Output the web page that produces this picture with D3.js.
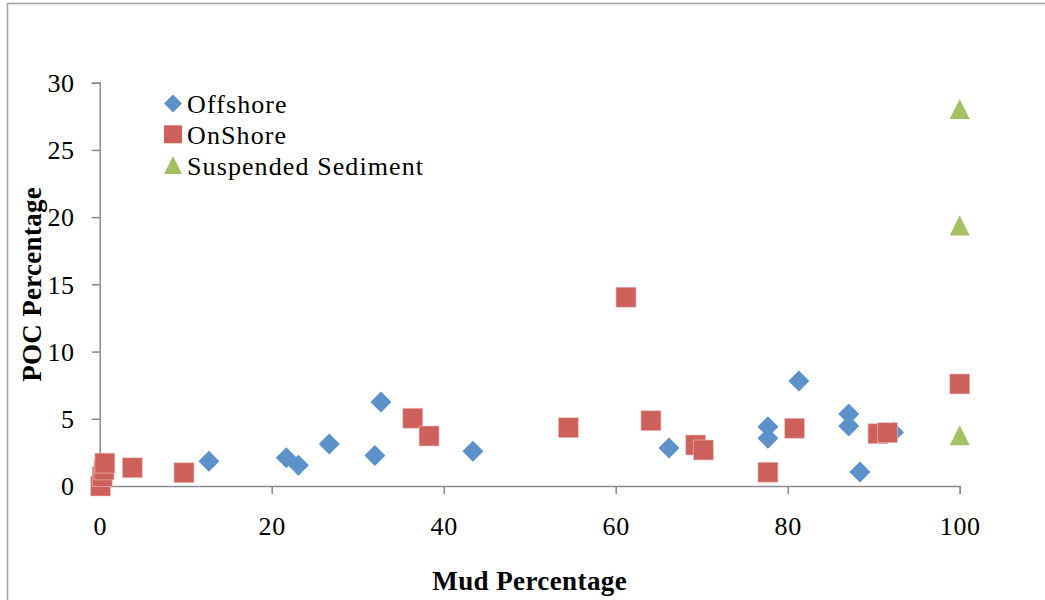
<!DOCTYPE html>
<html><head><meta charset="utf-8">
<script src="https://cdn.jsdelivr.net/npm/d3@7"></script>
<style>body{margin:0;background:#fff;} svg{display:block;}</style>
</head><body>
<svg id="c" width="1045" height="600"></svg>
<script>
const seriesNames = ["Offshore", "OnShore", "Suspended Sediment"];
const offshoreMud = [12.7, 21.7, 23.1, 26.7, 32.0, 32.7, 43.4, 66.2, 77.7, 77.7, 81.3, 87.1, 87.1, 88.4, 92.3];
const offshorePOC = [1.84, 2.1, 1.54, 3.12, 2.26, 6.25, 2.58, 2.83, 4.41, 3.55, 7.81, 5.36, 4.46, 1.04, 4.0];
const onshoreMud = [0.1, 0.3, 0.5, 0.6, 3.8, 9.8, 36.4, 38.3, 54.5, 61.2, 64.1, 69.3, 70.2, 77.7, 80.8, 90.5, 91.6, 100];
const onshorePOC = [0.0, 0.7, 1.2, 1.7, 1.36, 0.99, 5.04, 3.72, 4.34, 14.04, 4.86, 3.05, 2.68, 1.02, 4.29, 3.89, 3.97, 7.59];
const suspendedMud = [100, 100, 100];
const suspendedPOC = [28.05, 19.37, 3.77];
const xTicks = [0, 20, 40, 60, 80, 100];
const yTicks = [0, 5, 10, 15, 20, 25, 30];
const colors = ["#5b92c9", "#cd605a", "#a3c163"];

const svg = d3.select("#c");
const x = d3.scaleLinear().domain([0, 100]).range([99.7, 959.7]);
const y = d3.scaleLinear().domain([0, 30]).range([486, 82.7]);
const font = "'Liberation Serif', 'Times New Roman', serif";
const axisColor = "#8a8a8a";

// chart border
svg.append("rect").attr("x", 7.5).attr("y", 3.5).attr("width", 1100).attr("height", 700)
  .attr("fill", "none").attr("stroke", "#a6a6a6").attr("stroke-width", 1.6);

// y axis
const yAxis = svg.append("g").attr("transform", `translate(${x(0)},0)`)
  .call(d3.axisLeft(y).tickValues(yTicks).tickSize(8).tickPadding(17).tickFormat(d3.format("d")));
// x axis
const xAxis = svg.append("g").attr("transform", `translate(0,${y(0)})`)
  .call(d3.axisBottom(x).tickValues(xTicks).tickSize(8).tickPadding(22).tickFormat(d3.format("d")));
[xAxis, yAxis].forEach(g => {
  g.select(".domain").attr("stroke", axisColor).attr("stroke-width", 1.5);
  g.selectAll(".tick line").attr("stroke", axisColor).attr("stroke-width", 1.5);
  g.selectAll("text").attr("font-family", font).attr("font-size", 26).attr("fill", "#000")
    .attr("letter-spacing", 0.6);
});
yAxis.selectAll("text").attr("dy", "0.34em");
xAxis.selectAll("text").attr("dy", "0.72em");

// axis titles
svg.append("text").attr("x", (x(0) + x(100)) / 2).attr("y", 590).attr("text-anchor", "middle")
  .attr("font-family", font).attr("font-weight", "bold").attr("font-size", 27).attr("letter-spacing", 0.4)
  .text("Mud Percentage");
svg.append("text").attr("transform", `translate(41,${(y(0) + y(30)) / 2}) rotate(-90)`)
  .attr("text-anchor", "middle").attr("font-family", font).attr("font-weight", "bold").attr("font-size", 27)
  .attr("letter-spacing", 0.3).text("POC Percentage");

// marker shapes
const diamond = (s) => `M0,${-s}L${s},0L0,${s}L${-s},0Z`;
const square = (s) => `M${-s},${-s}H${s}V${s}H${-s}Z`;
const triangle = (w, h) => `M0,${-h/2}L${w/2},${h/2}L${-w/2},${h/2}Z`;

const plot = svg.append("g");
const off = d3.zip(offshoreMud, offshorePOC);
const on = d3.zip(onshoreMud, onshorePOC);
const sus = d3.zip(suspendedMud, suspendedPOC);

plot.selectAll(".off").data(off).join("path").attr("class", "off")
  .attr("d", diamond(10.5)).attr("fill", colors[0])
  .attr("transform", d => `translate(${x(d[0])},${y(d[1])})`);
plot.selectAll(".on").data(on).join("path").attr("class", "on")
  .attr("d", square(10)).attr("fill", colors[1]).attr("stroke", "#f0c8c6").attr("stroke-width", 0.6)
  .attr("transform", d => `translate(${x(d[0])},${y(d[1])})`);
plot.selectAll(".sus").data(sus).join("path").attr("class", "sus")
  .attr("d", triangle(20, 20)).attr("fill", colors[2])
  .attr("transform", d => `translate(${x(d[0])},${y(d[1])})`);

// legend
const legend = svg.append("g");
const shapes = [diamond(9), square(9), triangle(18, 18)];
seriesNames.forEach((name, i) => {
  const cy = 103.5 + i * 30.8;
  legend.append("path").attr("d", shapes[i]).attr("fill", colors[i])
    .attr("transform", `translate(173,${cy})`);
  legend.append("text").attr("x", 187).attr("y", cy + 9.5)
    .attr("font-family", font).attr("font-size", 26).attr("fill", "#000")
    .attr("letter-spacing", 1.1).text(name);
});
</script>
</body></html>
